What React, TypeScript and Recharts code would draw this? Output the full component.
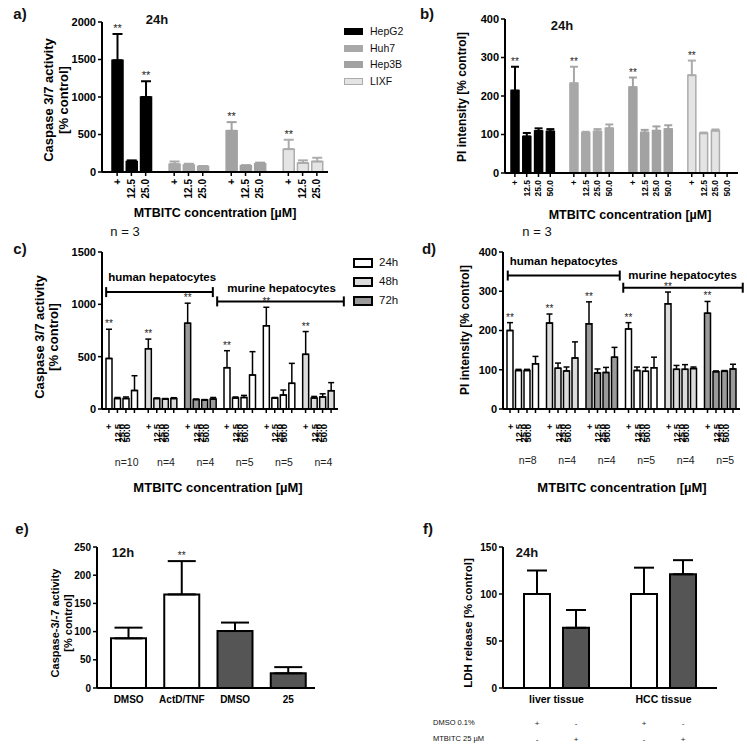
import React from 'react';
import {
  BarChart,
  Bar,
  XAxis,
  YAxis,
  Cell,
  ErrorBar,
  LabelList,
  ReferenceLine,
} from 'recharts';

const FONT = '"Liberation Sans", Arial, Helvetica, sans-serif';

// a) caspase 3/7 activity, 24h, tumour cell lines
const cellLines = ['HepG2', 'Huh7', 'Hep3B', 'LIXF'];
const concA = ['+', '12.5', '25.0'];
const caspaseA = [[1490, 140, 1000], [105, 95, 75], [550, 85, 110], [305, 120, 140]];
const caspaseAErr = [[350, 15, 210], [35, 15, 5], [115, 5, 15], [125, 35, 50]];
const caspaseAStar = [[1, 0, 1], [0, 0, 0], [1, 0, 0], [1, 0, 0]];

// b) PI intensity, 24h
const concB = ['+', '12.5', '25.0', '50.0'];
const piB = [[214, 95, 109, 108], [233, 104, 108, 116], [223, 105, 110, 114], [254, 103, 110, null]];
const piBErr = [[62, 9, 7, 6], [43, 3, 6, 10], [25, 7, 11, 10], [38, 2, 3, 0]];
const piBStar = [[1, 0, 0, 0], [1, 0, 0, 0], [1, 0, 0, 0], [1, 0, 0, 0]];

// c) + d) primary hepatocytes
const concCD = ['+', '12.5', '25.0', '50.0'];
const groupsCD = ['human 1', 'human 2', 'human 3', 'murine 1', 'murine 2', 'murine 3'];
const caspaseC = [[483, 100, 100, 177], [576, 100, 95, 100], [820, 90, 85, 95], [395, 105, 110, 325], [795, 105, 133, 245], [522, 105, 115, 175]];
const caspaseCErr = [[279, 10, 15, 141], [92, 5, 5, 8], [191, 5, 5, 15], [162, 10, 20, 223], [177, 5, 48, 191], [218, 15, 30, 77]];
const nC = ['n=10', 'n=4', 'n=4', 'n=5', 'n=5', 'n=4'];
const piD = [[200, 98, 98, 115], [219, 104, 97, 130], [217, 92, 93, 132], [204, 98, 96, 105], [268, 101, 101, 103], [244, 95, 96, 102]];
const piDErr = [[20, 3, 3, 19], [23, 13, 10, 41], [56, 10, 13, 25], [16, 9, 10, 27], [30, 10, 12, 4], [30, 2, 2, 12]];
const nD = ['n=8', 'n=4', 'n=4', 'n=5', 'n=4', 'n=5'];
const timepoints = ['24h', '48h', '72h'];

// e) 12h caspase
const treatE = ['DMSO', 'ActD/TNF', 'DMSO', '25'];
const caspaseE = [88, 166, 101, 26];
const caspaseEErr = [19, 59, 15, 11];
const starE = [0, 1, 0, 0];

// f) LDH release, tissue slices
const tissuesF = ['liver tissue', 'HCC tissue'];
const ldhDmso = [100, 100];
const ldhDmsoErr = [25, 28];
const ldhMtbitc = [64, 121];
const ldhMtbitcErr = [19, 15];

// styling
const lineFill = ['#000000', '#a8a8a8', '#a2a2a2', '#e4e4e4'];
const lineStroke = ['#000000', '#a8a8a8', '#a2a2a2', '#acacac'];
const fillC = ['#ffffff', '#dcdcdc', '#9a9a9a', '#ffffff', '#ffffff', '#dcdcdc'];
const fillD = ['#ffffff', '#dcdcdc', '#9a9a9a', '#ffffff', '#dcdcdc', '#9a9a9a'];
const legendFill = ['#ffffff', '#dcdcdc', '#9a9a9a'];
const BAR_CD = 6;
const GAP_CD = 2.5;
const STEP_CD = BAR_CD + GAP_CD;
const LABEL_SHIFT = [0, 8.5, 13, 17.5];

const axisLineStyle = { stroke: '#000', strokeWidth: 2 };
const tickLineStyle = { stroke: '#000', strokeWidth: 1.5 };
const yTick = (size: number) => ({ fontSize: size, fontWeight: 700, fill: '#000' });

type BarRow = { id: string; line: number; conc: string; value: number | null; err: number; star: boolean };
type Lookup = Record<string, { v: number; e: number }>;

function lineRows(values: (number | null)[][], errs: number[][], stars: number[][], concs: string[]) {
  const rows: BarRow[] = [];
  values.forEach((vals, li) => {
    if (li > 0) rows.push({ id: `gap${li}`, line: -1, conc: '', value: null, err: 0, star: false });
    vals.forEach((v, ci) =>
      rows.push({
        id: `${cellLines[li]} ${concs[ci]}`,
        line: li,
        conc: concs[ci],
        value: v,
        err: errs[li][ci],
        star: !!stars[li][ci],
      })
    );
  });
  return rows;
}

const rowsA = lineRows(caspaseA, caspaseAErr, caspaseAStar, concA);
const rowsB = lineRows(piB, piBErr, piBStar, concB);
const lookupOf = (rows: BarRow[]): Lookup =>
  Object.fromEntries(rows.filter((r) => r.value != null).map((r) => [r.id, { v: r.value as number, e: r.err }]));

const groupRows = (vals: number[][], errs: number[][]) =>
  groupsCD.map((id, g) => ({
    id,
    v0: vals[g][0], v1: vals[g][1], v2: vals[g][2], v3: vals[g][3],
    e0: errs[g][0], e1: errs[g][1], e2: errs[g][2], e3: errs[g][3],
    star: true,
  }));
const rowsC = groupRows(caspaseC, caspaseCErr);
const rowsD = groupRows(piD, piDErr);
const groupLookup = (rows: ReturnType<typeof groupRows>): Lookup =>
  Object.fromEntries(rows.map((r) => [r.id, { v: r.v0, e: r.e0 }]));

const rowsE = treatE.map((t, i) => ({ id: `${t}#${i}`, value: caspaseE[i], err: caspaseEErr[i], star: !!starE[i] }));
const rowsF = tissuesF.map((t, i) => ({ id: t, dmso: ldhDmso[i], dmsoErr: ldhDmsoErr[i], mtb: ldhMtbitc[i], mtbErr: ldhMtbitcErr[i] }));

// "**" above the error bar, positioned from the drawn bar geometry
const starContent = (lookup: Lookup, size: number) => (p: any) => {
  const vb = p.viewBox ?? p;
  const hit = p.value != null ? lookup[p.value] : undefined;
  if (!hit || vb == null || !hit.v || vb.height == null) return null;
  const h = Math.abs(vb.height);
  const top = Math.min(vb.y, vb.y + vb.height);
  const errTop = top - (hit.e * h) / hit.v;
  return (
    <text x={vb.x + vb.width / 2} y={errTop - 2} textAnchor="middle" fontSize={size} fill="#222">
      **
    </text>
  );
};

function yTitle(lines: string[], xs: number[], cy: number, size: number) {
  return () => (
    <g>
      {lines.map((t, i) => (
        <text
          key={t}
          transform={`translate(${xs[i]},${cy}) rotate(-90)`}
          textAnchor="middle"
          dominantBaseline="central"
          fontSize={size}
          fontWeight={700}
          fill="#000"
        >
          {t}
        </text>
      ))}
    </g>
  );
}

function xTitle(text: string, cx: number, cy: number, size: number) {
  return () => (
    <text x={cx} y={cy} textAnchor="middle" dominantBaseline="central" fontSize={size} fontWeight={700} fill="#000">
      {text}
    </text>
  );
}

const concTick = (rows: BarRow[], size: number) => (p: any) => {
  const row = rows.find((r) => r.id === p.payload?.value);
  if (!row || !row.conc) return <g />;
  const axisY = p.y - 6;
  return (
    <g>
      <line x1={p.x} x2={p.x} y1={axisY} y2={axisY + 4} stroke="#000" strokeWidth={1.5} />
      <text
        transform={`translate(${p.x},${axisY + 7}) rotate(-90)`}
        textAnchor="end"
        dominantBaseline="central"
        fontSize={size}
        fontWeight={700}
        fill="#000"
      >
        {row.conc}
      </text>
    </g>
  );
};

const groupTick = (nLabels: string[], nDy: number) => (p: any) => {
  const gi = groupsCD.indexOf(p.payload?.value);
  if (gi < 0) return <g />;
  const axisY = p.y - 6;
  const plusX = p.x - 1.5 * STEP_CD;
  return (
    <g>
      {concCD.map((c, i) => (
        <line
          key={`t${c}`}
          x1={p.x + (i - 1.5) * STEP_CD}
          x2={p.x + (i - 1.5) * STEP_CD}
          y1={axisY}
          y2={axisY + 4}
          stroke="#000"
          strokeWidth={1.5}
        />
      ))}
      {concCD.map((c, i) => (
        <text
          key={c}
          transform={`translate(${plusX + LABEL_SHIFT[i]},${axisY + 15}) rotate(-90)`}
          textAnchor="end"
          dominantBaseline="central"
          fontSize={9.5}
          fontWeight={700}
          fill="#000"
        >
          {c}
        </text>
      ))}
      <text x={p.x + 5} y={axisY + nDy} textAnchor="middle" dominantBaseline="central" fontSize={10.5} fill="#222">
        {nLabels[gi]}
      </text>
    </g>
  );
};

// bracket drawn between two group centres, widened to the group edges
const bracketShape = (label: string, extL: number, extR: number, dx: number, dy: number) => (p: any) => {
  const x1 = p.x1 - extL;
  const x2 = p.x2 + extR;
  return (
    <g>
      <line x1={x1} y1={p.y1} x2={x2} y2={p.y2} stroke="#000" strokeWidth={2} />
      <line x1={x1} y1={p.y1 - 5} x2={x1} y2={p.y1 + 5} stroke="#000" strokeWidth={2} />
      <line x1={x2} y1={p.y2 - 5} x2={x2} y2={p.y2 + 5} stroke="#000" strokeWidth={2} />
      <text x={x1 + dx} y={p.y1 - dy} dominantBaseline="central" fontSize={11.5} fontWeight={700} fill="#000">
        {label}
      </text>
    </g>
  );
};

const bracketsC = [
  { label: 'human hepatocytes', from: 'human 1', to: 'human 3', y: 1117, extL: 15.5, extR: 12.5, dx: 2, dy: 15.5 },
  { label: 'murine hepatocytes', from: 'murine 1', to: 'murine 3', y: 1028, extL: 22.5, extR: 25.5, dx: 10, dy: 13.5 },
];
const bracketsD = [
  { label: 'human hepatocytes', from: 'human 1', to: 'human 3', y: 340, extL: 15, extR: 18, dx: 2, dy: 14.5 },
  { label: 'murine hepatocytes', from: 'murine 1', to: 'murine 3', y: 309, extL: 18, extR: 22.5, dx: 5, dy: 12.5 },
];

const tissueTick = (p: any) => {
  const axisY = p.y;
  const dmsoSigns = ['+', '-'];
  const mtbSigns = ['-', '+'];
  const half = (26 + 13) / 2;
  return (
    <g>
      <text x={p.x} y={axisY + 11} textAnchor="middle" dominantBaseline="central" fontSize={10.5} fontWeight={700} fill="#000">
        {p.payload?.value}
      </text>
      {[-1, 1].map((s, i) => (
        <g key={s}>
          <text x={p.x + s * half} y={axisY + 35} textAnchor="middle" dominantBaseline="central" fontSize={8} fill="#222">
            {dmsoSigns[i]}
          </text>
          <text x={p.x + s * half} y={axisY + 51} textAnchor="middle" dominantBaseline="central" fontSize={8} fill="#222">
            {mtbSigns[i]}
          </text>
        </g>
      ))}
    </g>
  );
};

function Txt({ x, y, size, bold, left, children }: { x: number; y: number; size: number; bold?: boolean; left?: boolean; children: React.ReactNode }) {
  return (
    <div
      style={{
        position: 'absolute',
        left: x,
        top: y,
        transform: left ? 'translate(0,-50%)' : 'translate(-50%,-50%)',
        fontSize: size,
        fontWeight: bold ? 700 : 400,
        lineHeight: 1,
        whiteSpace: 'nowrap',
        color: '#111',
      }}
    >
      {children}
    </div>
  );
}

function PanelA() {
  return (
    <div style={{ position: 'absolute', left: 0, top: 0 }}>
      <BarChart width={340} height={232} data={rowsA} margin={{ top: 22, right: 12, bottom: 0, left: 0 }} barSize={11}>
        <XAxis
          dataKey="id"
          interval={0}
          height={60}
          tick={concTick(rowsA, 10)}
          tickLine={false}
          tickSize={4}
          tickMargin={2}
          axisLine={axisLineStyle}
          padding={{ left: 8, right: 4 }}
          label={xTitle('MTBITC concentration [µM]', 215, 213, 12.5)}
        />
        <YAxis
          width={102}
          domain={[0, 2000]}
          ticks={[0, 500, 1000, 1500, 2000]}
          interval={0}
          tick={yTick(11)}
          tickSize={4}
          tickMargin={2}
          axisLine={axisLineStyle}
          tickLine={tickLineStyle}
          label={yTitle(['Caspase 3/7 activity', '[% control]'], [48, 63], 100, 13)}
        />
        <Bar dataKey="value" isAnimationActive={false}>
          {rowsA.map((r) => (
            <Cell key={r.id} fill={r.line >= 0 ? lineFill[r.line] : 'none'} stroke={r.line >= 0 ? lineStroke[r.line] : 'none'} strokeWidth={1.5} />
          ))}
          {cellLines.map((name, li) => (
            <ErrorBar
              key={name}
              dataKey={(d: BarRow) => (d.line === li && d.value != null ? [0, d.err] : null)}
              width={5}
              stroke={lineStroke[li]}
              strokeWidth={2}
              isAnimationActive={false}
            />
          ))}
          <LabelList dataKey={(d: BarRow) => (d.star ? d.id : null)} content={starContent(lookupOf(rowsA), 11)} />
        </Bar>
      </BarChart>
    </div>
  );
}

function PanelB() {
  return (
    <div style={{ position: 'absolute', left: 380, top: 0 }}>
      <BarChart width={365} height={233} data={rowsB} margin={{ top: 19, right: 7, bottom: 0, left: 0 }} barSize={8}>
        <XAxis
          dataKey="id"
          interval={0}
          height={60}
          tick={concTick(rowsB, 8.5)}
          tickLine={false}
          tickSize={4}
          tickMargin={2}
          axisLine={axisLineStyle}
          padding={{ left: 4, right: 5 }}
          label={xTitle('MTBITC concentration [µM]', 250, 215, 12.5)}
        />
        <YAxis
          width={125}
          domain={[0, 400]}
          ticks={[0, 100, 200, 300, 400]}
          interval={0}
          tick={yTick(11)}
          tickSize={4}
          tickMargin={2}
          axisLine={axisLineStyle}
          tickLine={tickLineStyle}
          label={yTitle(['PI intensity [% control]'], [82], 97, 12)}
        />
        <Bar dataKey="value" isAnimationActive={false}>
          {rowsB.map((r) => (
            <Cell key={r.id} fill={r.line >= 0 ? lineFill[r.line] : 'none'} stroke={r.line >= 0 ? lineStroke[r.line] : 'none'} strokeWidth={1.5} />
          ))}
          {cellLines.map((name, li) => (
            <ErrorBar
              key={name}
              dataKey={(d: BarRow) => (d.line === li && d.value != null && d.err > 0 ? [0, d.err] : null)}
              width={4}
              stroke={lineStroke[li]}
              strokeWidth={2}
              isAnimationActive={false}
            />
          ))}
          <LabelList dataKey={(d: BarRow) => (d.star ? d.id : null)} content={starContent(lookupOf(rowsB), 10)} />
        </Bar>
      </BarChart>
    </div>
  );
}

function GroupPanel({
  left,
  rows,
  fills,
  yw,
  right,
  max,
  ticks,
  yLabel,
  yLabelX,
  yLabelY,
  yLabelSize,
  nLabels,
  nDy,
  brackets,
  titleX,
}: {
  left: number;
  rows: ReturnType<typeof groupRows>;
  fills: string[];
  yw: number;
  right: number;
  max: number;
  ticks: number[];
  yLabel: string[];
  yLabelX: number[];
  yLabelY: number;
  yLabelSize: number;
  nLabels: string[];
  nDy: number;
  brackets: typeof bracketsC;
  titleX: number;
}) {
  return (
    <div style={{ position: 'absolute', left, top: 240 }}>
      <BarChart width={365 - (left === 0 ? 20 : 0)} height={260} data={rows} margin={{ top: 12, right, bottom: 0, left: 0 }} barSize={BAR_CD} barGap={GAP_CD}>
        <XAxis
          dataKey="id"
          interval={0}
          height={91}
          tick={groupTick(nLabels, nDy)}
          tickLine={false}
          tickSize={4}
          tickMargin={2}
          axisLine={axisLineStyle}
          label={xTitle('MTBITC concentration [µM]', titleX, 247, 13)}
        />
        <YAxis
          width={yw}
          domain={[0, max]}
          ticks={ticks}
          interval={0}
          tick={yTick(11)}
          tickSize={4}
          tickMargin={2}
          axisLine={axisLineStyle}
          tickLine={tickLineStyle}
          label={yTitle(yLabel, yLabelX, yLabelY, yLabelSize)}
        />
        {concCD.map((c, i) => (
          <Bar key={c} dataKey={`v${i}`} stroke="#000" strokeWidth={1.5} isAnimationActive={false}>
            {rows.map((r, g) => (
              <Cell key={r.id} fill={fills[g]} />
            ))}
            <ErrorBar dataKey={(d: any) => [0, d[`e${i}`]]} width={3} stroke="#000" strokeWidth={1.5} isAnimationActive={false} />
            {i === 0 && (
              <LabelList dataKey={(d: any) => (d.star ? d.id : null)} content={starContent(groupLookup(rows), 10)} />
            )}
          </Bar>
        ))}
        {brackets.map((b) => (
          <ReferenceLine
            key={b.label}
            segment={[
              { x: b.from, y: b.y },
              { x: b.to, y: b.y },
            ]}
            ifOverflow="visible"
            shape={bracketShape(b.label, b.extL, b.extR, b.dx, b.dy)}
          />
        ))}
      </BarChart>
    </div>
  );
}

function PanelE() {
  const lookup: Lookup = Object.fromEntries(rowsE.map((r) => [r.id, { v: r.value, e: r.err }]));
  return (
    <div style={{ position: 'absolute', left: 0, top: 520 }}>
      <BarChart width={330} height={193} data={rowsE} margin={{ top: 27, right: 15, bottom: 0, left: 0 }} barSize={35}>
        <XAxis
          dataKey="id"
          interval={0}
          height={25}
          tickFormatter={(v: string) => v.split('#')[0]}
          tick={{ fontSize: 10, fontWeight: 700, fill: '#000' }}
          tickLine={false}
          tickSize={0}
          tickMargin={8}
          axisLine={axisLineStyle}
          padding={{ left: 5, right: 0 }}
        />
        <YAxis
          width={97}
          domain={[0, 250]}
          ticks={[0, 50, 100, 150, 200, 250]}
          interval={0}
          tick={yTick(10)}
          tickSize={4}
          tickMargin={2}
          axisLine={axisLineStyle}
          tickLine={tickLineStyle}
          label={yTitle(['Caspase-3/-7 activity', '[% control]'], [55, 68], 103, 11)}
        />
        <Bar dataKey="value" stroke="#000" strokeWidth={2} isAnimationActive={false}>
          {rowsE.map((r, i) => (
            <Cell key={r.id} fill={i < 2 ? '#ffffff' : '#555555'} />
          ))}
          <ErrorBar dataKey={(d: any) => [0, d.err]} width={14} stroke="#000" strokeWidth={2} isAnimationActive={false} />
          <LabelList dataKey={(d: any) => (d.star ? d.id : null)} content={starContent(lookup, 10)} />
        </Bar>
      </BarChart>
    </div>
  );
}

function PanelF() {
  return (
    <div style={{ position: 'absolute', left: 380, top: 520 }}>
      <BarChart width={345} height={228} data={rowsF} margin={{ top: 27, right: 8, bottom: 0, left: 0 }} barSize={26} barGap={13}>
        <XAxis
          dataKey="id"
          interval={0}
          height={60}
          tick={tissueTick}
          tickLine={false}
          tickSize={0}
          tickMargin={0}
          axisLine={axisLineStyle}
        />
        <YAxis
          width={123}
          domain={[0, 150]}
          ticks={[0, 50, 100, 150]}
          interval={0}
          tick={yTick(10)}
          tickSize={4}
          tickMargin={2}
          axisLine={axisLineStyle}
          tickLine={tickLineStyle}
          label={yTitle(['LDH release [% control]'], [88], 103, 11.5)}
        />
        <Bar dataKey="dmso" fill="#ffffff" stroke="#000" strokeWidth={2} isAnimationActive={false}>
          <ErrorBar dataKey={(d: any) => [0, d.dmsoErr]} width={10} stroke="#000" strokeWidth={2} isAnimationActive={false} />
        </Bar>
        <Bar dataKey="mtb" fill="#555555" stroke="#000" strokeWidth={2} isAnimationActive={false}>
          <ErrorBar dataKey={(d: any) => [0, d.mtbErr]} width={10} stroke="#000" strokeWidth={2} isAnimationActive={false} />
        </Bar>
      </BarChart>
    </div>
  );
}

export default function App() {
  return (
    <div
      style={{
        position: 'absolute',
        left: 0,
        top: 0,
        width: 747,
        height: 748,
        background: '#fff',
        fontFamily: FONT,
        overflow: 'hidden',
      }}
    >
      <PanelA />
      <PanelB />
      <GroupPanel
        left={0}
        rows={rowsC}
        fills={fillC}
        yw={102}
        right={7}
        max={1500}
        ticks={[0, 500, 1000, 1500]}
        yLabel={['Caspase 3/7 activity', '[% control]']}
        yLabelX={[39, 53]}
        yLabelY={97}
        yLabelSize={13}
        nLabels={nC}
        nDy={53}
        brackets={bracketsC}
        titleX={218}
      />
      <GroupPanel
        left={380}
        rows={rowsD}
        fills={fillD}
        yw={123}
        right={5}
        max={400}
        ticks={[0, 100, 200, 300, 400]}
        yLabel={['PI intensity [% control]']}
        yLabelX={[85]}
        yLabelY={90}
        yLabelSize={12}
        nLabels={nD}
        nDy={51}
        brackets={bracketsD}
        titleX={242}
      />
      <PanelE />
      <PanelF />

      {/* panel letters */}
      <Txt x={20} y={13} size={15} bold>a)</Txt>
      <Txt x={427} y={13} size={15} bold>b)</Txt>
      <Txt x={20} y={248} size={15} bold>c)</Txt>
      <Txt x={429} y={248} size={15} bold>d)</Txt>
      <Txt x={22} y={528} size={15} bold>e)</Txt>
      <Txt x={428} y={528} size={15} bold>f)</Txt>

      {/* time points and n */}
      <Txt x={157} y={19} size={13} bold>24h</Txt>
      <Txt x={562} y={25} size={13} bold>24h</Txt>
      <Txt x={123} y={552} size={13} bold>12h</Txt>
      <Txt x={527} y={552} size={13} bold>24h</Txt>
      <Txt x={125} y={231} size={13}>n = 3</Txt>
      <Txt x={537} y={231} size={13}>n = 3</Txt>

      {/* legend a */}
      {cellLines.map((name, i) => (
        <React.Fragment key={name}>
          <div
            style={{
              position: 'absolute',
              left: 344,
              top: 31 + i * 16.6 - 3,
              width: 17,
              height: 5,
              background: lineFill[i],
              border: `1px solid ${lineStroke[i]}`,
            }}
          />
          <Txt x={370} y={31 + i * 16.6} size={10.5} left>
            {name}
          </Txt>
        </React.Fragment>
      ))}

      {/* legend c */}
      {timepoints.map((t, i) => (
        <React.Fragment key={t}>
          <div
            style={{
              position: 'absolute',
              left: 353,
              top: 263 + i * 19 - 5,
              width: 16,
              height: 6,
              background: legendFill[i],
              border: '2px solid #000',
            }}
          />
          <Txt x={379} y={263 + i * 19} size={11.5} left>
            {t}
          </Txt>
        </React.Fragment>
      ))}

      {/* f treatment table */}
      <Txt x={433} y={723} size={7.5} left>DMSO 0.1%</Txt>
      <Txt x={433} y={739} size={7.5} left>MTBITC 25 µM</Txt>
    </div>
  );
}
